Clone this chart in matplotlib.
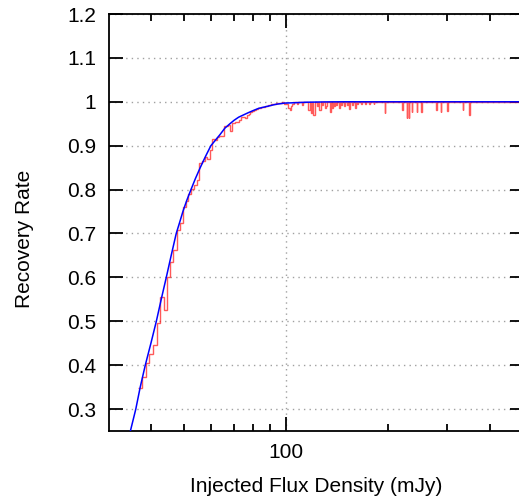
import numpy as np
import matplotlib.pyplot as plt
from matplotlib.ticker import FixedLocator, NullFormatter

# fitted curve
fit_flux = [34.0, 34.7, 36.0, 37.1, 38.4, 39.9, 41.4, 42.8, 44.3, 45.8, 47.4, 48.5, 49.6,
            50.9, 52.4, 54.0, 55.8, 57.8, 60.0, 63.8, 66.0, 68.3, 70.3, 72.5, 77.3, 80.0,
            83.0, 88.5, 93.0, 99.0, 107, 115, 130, 150, 200, 300, 600]
fit_rate = [0.23, 0.25, 0.30, 0.35, 0.40, 0.45, 0.50, 0.55, 0.60, 0.65, 0.70, 0.725, 0.75,
            0.775, 0.80, 0.825, 0.85, 0.875, 0.90, 0.925, 0.94, 0.95, 0.958, 0.965, 0.975, 0.98,
            0.985, 0.99, 0.994, 0.997, 0.998, 0.999, 0.9997, 1.0, 1.0, 1.0, 1.0]

# measured recovery rate in 1 mJy bins, 37..105 mJy
low_rate = [0.348, 0.372, 0.405, 0.426, 0.447, 0.495, 0.555, 0.525, 0.600, 0.634, 0.662,
            0.708, 0.723, 0.761, 0.775, 0.790, 0.802, 0.811, 0.822, 0.860, 0.865,
            0.875, 0.870, 0.891, 0.915, 0.913, 0.920, 0.923, 0.923, 0.944, 0.945,
            0.948, 0.933, 0.952, 0.955, 0.955, 0.958, 0.966, 0.966, 0.962, 0.969,
            0.972, 0.976, 0.979, 0.981, 0.984, 0.985, 0.986, 0.987, 0.988, 0.990,
            0.991, 0.992, 0.993, 0.994, 0.995, 0.996, 0.997, 0.997, 0.998, 0.998,
            1.000, 0.996, 0.995, 0.994, 0.986, 0.982, 0.990, 0.996]
first_bin = 37
last_bin = 520

# bins above 105 mJy that fall below 1
dip_flux = [108, 112, 117, 119, 121, 124, 126, 128, 131, 132, 135, 137, 139, 141, 144,
            146, 149, 152, 154, 157, 160, 163, 167, 172, 177, 182, 196, 221, 228, 231,
            236, 244, 251, 278, 287, 300, 334, 349]
dip_rate = [0.995, 0.993, 0.982, 0.975, 0.971, 0.990, 0.982, 0.992, 0.985, 0.990, 0.977,
            0.985, 0.990, 0.993, 0.986, 0.992, 0.990, 0.992, 0.984, 0.993, 0.986, 0.994,
            0.994, 0.994, 0.994, 0.995, 0.975, 0.982, 0.963, 0.963, 0.977, 0.977, 0.977,
            0.982, 0.977, 0.979, 0.982, 0.971]

bins = np.arange(first_bin, last_bin + 1)
rate = np.ones(len(bins))
rate[:len(low_rate)] = low_rate
for f, r in zip(dip_flux, dip_rate):
    rate[f - first_bin] = r
edges = np.append(bins - 0.5, bins[-1] + 0.5)

plt.rcParams['font.family'] = ['Liberation Sans', 'DejaVu Sans']

fig = plt.figure(figsize=(5.19, 4.97), dpi=100)
ax = fig.add_axes([109/519, 1 - 431/497, (524 - 109)/519, (431 - 14)/497])

ax.stairs(rate, edges, baseline=None, color='#ff0000', alpha=0.65, lw=1.0, zorder=2)
ax.plot(fit_flux, fit_rate, color='#0000ff', lw=1.1, zorder=3)

ax.set_xscale('log')
ax.set_xlim(30, 505)
ax.set_ylim(0.25, 1.2)

yt = [0.3, 0.4, 0.5, 0.6, 0.7, 0.8, 0.9, 1.0, 1.1, 1.2]
ax.set_yticks(yt)
ax.set_yticklabels(['0.3', '0.4', '0.5', '0.6', '0.7', '0.8', '0.9', '1', '1.1', '1.2'])
ax.xaxis.set_major_locator(FixedLocator([100]))
ax.set_xticklabels(['100'])
ax.xaxis.set_minor_locator(FixedLocator([40, 50, 60, 70, 80, 90, 200, 300, 400]))
ax.xaxis.set_minor_formatter(NullFormatter())

ax.tick_params(which='both', direction='in', top=True, right=True, labelsize=15, width=1.3)
ax.tick_params(which='major', length=10, pad=9)
ax.tick_params(which='minor', length=5)
for s in ax.spines.values():
    s.set_linewidth(1.3)

ax.grid(True, which='major', color='#a0a0a0', linestyle=(0, (1, 3)), lw=1.0)

fig.text(316/519, 1 - 487/497, 'Injected Flux Density (mJy)', ha='center', va='center', fontsize=15)
fig.text(25/519, 1 - 239/497, 'Recovery Rate', ha='center', va='center', rotation=90, fontsize=15)

fig.savefig('out.png', dpi=100)
